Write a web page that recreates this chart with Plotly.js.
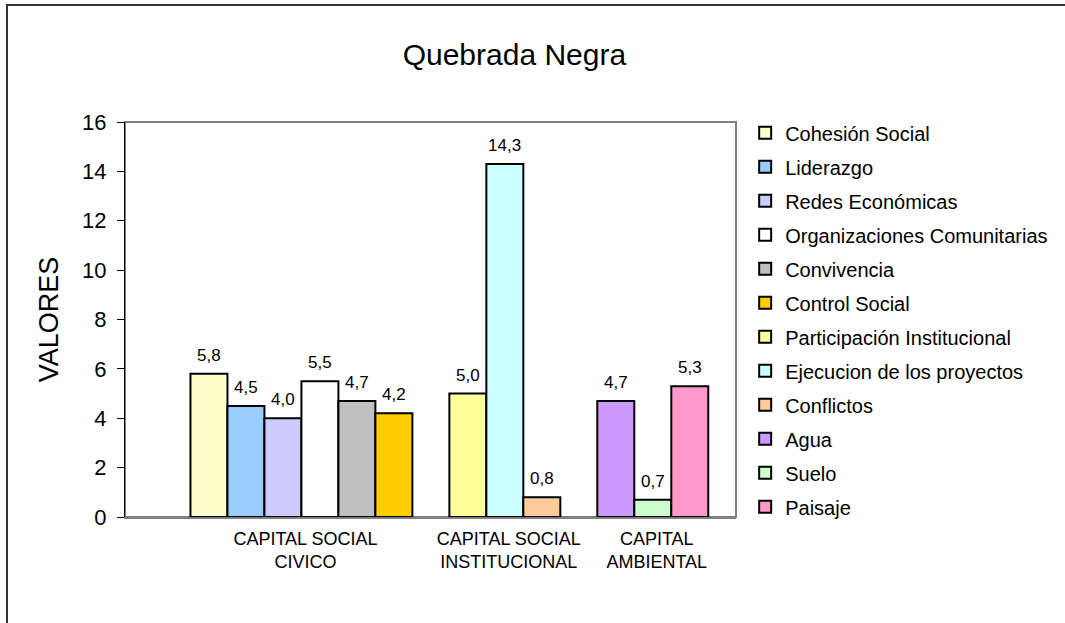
<!DOCTYPE html>
<html>
<head>
<meta charset="utf-8">
<script src="https://cdn.plot.ly/plotly-3.0.1.min.js"></script>
<style>
  html, body { margin: 0; padding: 0; background: #ffffff; overflow: hidden; width: 1065px; height: 623px; }
  .edge { position: absolute; background: #333333; pointer-events: none; }
  #edgeTop { left: 6px; top: 4px; width: 1059px; height: 2px; }
  #edgeLeft { left: 6px; top: 4px; width: 2px; height: 619px; }
  #chart { position: absolute; left: 0; top: 0; width: 1065px; height: 623px; }
</style>
</head>
<body>
<div id="chart"></div>
<div class="edge" id="edgeTop"></div>
<div class="edge" id="edgeLeft"></div>
<script>
// ---- data ----
const categories = ['CAPITAL SOCIAL<br>CIVICO', 'CAPITAL SOCIAL<br>INSTITUCIONAL', 'CAPITAL<br>AMBIENTAL'];
const seriesNames = ['Cohesión Social', 'Liderazgo', 'Redes Económicas', 'Organizaciones Comunitarias',
  'Convivencia', 'Control Social', 'Participación Institucional', 'Ejecucion de los proyectos',
  'Conflictos', 'Agua', 'Suelo', 'Paisaje'];
const seriesValues = [5.8, 4.5, 4.0, 5.5, 4.7, 4.2, 5.0, 14.3, 0.8, 4.7, 0.7, 5.3];
const seriesCategory = [0, 0, 0, 0, 0, 0, 1, 1, 1, 2, 2, 2];
const yTicks = [0, 2, 4, 6, 8, 10, 12, 14, 16];

// ---- styles ----
const seriesColors = ['#FFFFCC', '#99CCFF', '#CCCCFF', '#FFFFFF', '#C0C0C0', '#FFCC00',
  '#FFFF99', '#CCFFFF', '#FFCC99', '#CC99FF', '#CCFFCC', '#FF99CC'];
const FONT = 'Liberation Sans, Arial, sans-serif';

// slot positions: bars side by side within a category, one empty slot between categories
const positions = seriesValues.map((v, i) => i + seriesCategory[i]);
const catCenters = categories.map((c, k) => {
  const p = positions.filter((_, i) => seriesCategory[i] === k);
  return p.reduce((a, b) => a + b, 0) / p.length;
});

const traces = seriesNames.map((name, i) => ({
  type: 'bar',
  name: name,
  legendgroup: 'g' + i,
  x: [positions[i]],
  y: [seriesValues[i]],
  width: 1,
  marker: { color: seriesColors[i], line: { color: '#000000', width: 2 } },
  hoverinfo: 'name+y'
}));

const annotations = seriesValues.map((v, i) => ({
  x: positions[i], y: v, xref: 'x', yref: 'y',
  text: v.toFixed(1).replace('.', ','),
  showarrow: false, yanchor: 'bottom', yshift: 7,
  font: { family: FONT, size: 17, color: '#000000' }
}));

const layout = {
  width: 1065, height: 623,
  paper_bgcolor: 'rgba(0,0,0,0)',
  plot_bgcolor: '#ffffff',
  margin: { l: 125, r: 323, t: 122, b: 106 },
  barmode: 'overlay',
  showlegend: true,
  font: { family: FONT, color: '#000000' },
  title: {
    text: 'Quebrada Negra',
    font: { family: FONT, size: 30, color: '#000000' },
    x: 0.483, xanchor: 'center', xref: 'container',
    y: 0.913, yanchor: 'middle', yref: 'container'
  },
  xaxis: {
    range: [-2.27, 14.25],
    tickmode: 'array', tickvals: catCenters, ticktext: categories,
    ticks: '', showgrid: false, zeroline: false,
    showline: true, linecolor: '#808080', linewidth: 2,
    tickfont: { family: FONT, size: 18, color: '#000000' },
    ticklabelstandoff: 4, ticklabelshift: 4,
    fixedrange: true
  },
  yaxis: {
    range: [0, 16], tickmode: 'array', tickvals: yTicks,
    ticks: 'outside', ticklen: 7, tickcolor: '#000000', tickwidth: 1,
    showgrid: false, zeroline: false,
    showline: true, linecolor: '#000000', linewidth: 1,
    tickfont: { family: FONT, size: 22, color: '#000000' },
    ticklabelstandoff: 6,
    title: { text: 'VALORES', font: { family: FONT, size: 27, color: '#000000' }, standoff: 15 },
    fixedrange: true
  },
  legend: {
    x: 1.015, xanchor: 'left', y: 1.022, yanchor: 'top',
    font: { family: FONT, size: 20, color: '#000000' },
    tracegroupgap: 5, traceorder: 'grouped', maxheight: 1000,
    bgcolor: 'rgba(0,0,0,0)', borderwidth: 0
  },
  shapes: [{
    type: 'rect', xref: 'paper', yref: 'paper', x0: 0, x1: 1, y0: 0, y1: 1,
    line: { color: '#808080', width: 2 }, layer: 'below'
  }],
  annotations: annotations
};

Plotly.newPlot('chart', traces, layout, { displayModeBar: false, staticPlot: true });
</script>
</body>
</html>
